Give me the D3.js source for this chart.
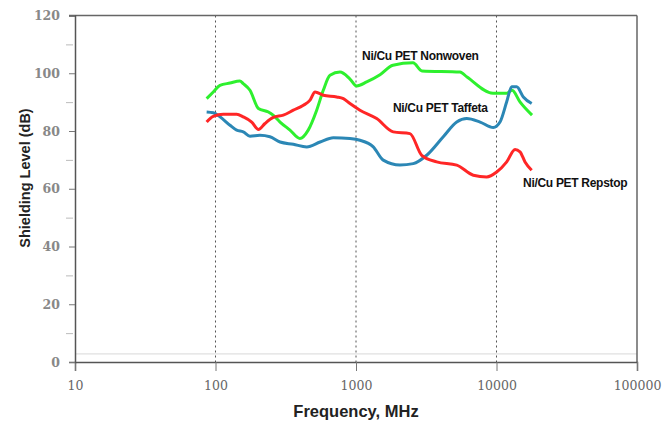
<!DOCTYPE html>
<html>
<head>
<meta charset="utf-8">
<script src="https://cdn.jsdelivr.net/npm/d3@7.9.0/dist/d3.min.js"></script>
<style>
  body { margin: 0; background: #fff; }
  svg { display: block; }
</style>
</head>
<body>
<svg id="vis"></svg>
<script>
const width = 665;
const height = 423;

// --- data ---
const nonwovenFreq = [86.5, 96.4, 107.6, 126.8, 149, 157.6, 176, 202, 238, 257, 288, 339, 399, 457, 525, 585, 653, 769, 906, 1012, 1191, 1482, 1832, 2545, 2950, 5500, 6170, 9440, 11880, 12900, 14690, 17900];
const nonwovenDb   = [91.2, 93.5, 95.8, 96.6, 97.3, 96.4, 94.1, 87.8, 86.6, 85.5, 83.1, 80.3, 77.4, 80.3, 87.2, 94.1, 99.3, 100.4, 98, 95.6, 97, 99.5, 102.8, 103.6, 100.8, 100.4, 98.7, 93.1, 93.1, 94.1, 90.1, 85.5];

const taffetaFreq = [86.5, 96.4, 107.6, 126.8, 141.5, 157.6, 176, 207, 244, 288, 358, 446, 555, 689, 906, 1067, 1327, 1563, 2055, 2556, 3186, 4180, 5210, 6140, 7640, 9490, 10590, 11820, 12830, 13920, 15520, 17800];
const taffetaDb   = [86.6, 86.3, 84.9, 82, 80.3, 79.7, 78.2, 78.5, 78, 76.2, 75.4, 74.5, 76.2, 77.7, 77.4, 76.8, 74.5, 69.9, 68.2, 68.7, 71.6, 78, 83.1, 84.3, 83.1, 81.2, 83.1, 90.1, 95.3, 95.3, 91.8, 89.5];

const repstopFreq = [86.5, 96.4, 113.5, 141.5, 157.6, 181, 202, 225, 258, 304, 358, 422, 471, 511, 585, 729, 813, 906, 1067, 1403, 1841, 2420, 2937, 3750, 5210, 6840, 8510, 10030, 11820, 13550, 14700, 15960, 17800];
const repstopDb   = [83.1, 85.1, 85.8, 85.8, 84.9, 83.1, 80.5, 82.6, 84.7, 85.5, 87.2, 88.9, 90.7, 93.5, 92.4, 91.8, 91.2, 89.5, 87.2, 84.3, 79.7, 79.1, 71.6, 69.3, 68.2, 64.7, 64.1, 65.8, 69.3, 73.6, 72.8, 69.3, 66.4];

const seriesNames  = ["Ni/Cu PET Nonwoven", "Ni/Cu PET Taffeta", "Ni/Cu PET Repstop"];
const seriesColors = ["#2ef02e", "#2b87b5", "#ff2626"];
// where each label starts, in data units (freq, dB)
const labelFreq = [1104, 1832, 15450];
const labelDb   = [106, 88, 62];

const xTicks = [10, 100, 1000, 10000, 100000];
const yTicks = [0, 20, 40, 60, 80, 100, 120];
const yMinor = [10, 30, 50, 70, 90, 110];
const dashedFreq = [100, 1000, 10000];
const floorLevel = 2.8;

const margin = { left: 75, right: 28, top: 15.5, bottom: 61 };

const x = d3.scaleLog()
    .domain([10, 100000])
    .range([margin.left, width - margin.right]);

const y = d3.scaleLinear()
    .domain([0, 120])
    .range([height - margin.bottom, margin.top]);

const svg = d3.select("#vis")
    .attr("width", width)
    .attr("height", height);

// faint line just above the bottom axis
svg.append("line")
    .attr("x1", x(10)).attr("x2", x(100000))
    .attr("y1", y(floorLevel)).attr("y2", y(floorLevel))
    .attr("stroke", "#d8d8d8")
    .attr("stroke-width", 1);

// dashed decade lines
svg.selectAll("line.decade")
    .data(dashedFreq)
    .join("line")
    .attr("class", "decade")
    .attr("x1", d => x(d)).attr("x2", d => x(d))
    .attr("y1", y(120)).attr("y2", y(0))
    .attr("stroke", "#555")
    .attr("stroke-width", 1)
    .attr("stroke-dasharray", "2,3");

// frame: top and right
svg.append("line")
    .attr("x1", x(10) - 6).attr("x2", x(100000))
    .attr("y1", y(120)).attr("y2", y(120))
    .attr("stroke", "#666").attr("stroke-width", 1.5);
svg.append("line")
    .attr("x1", x(100000)).attr("x2", x(100000))
    .attr("y1", y(120)).attr("y2", y(0))
    .attr("stroke", "#666").attr("stroke-width", 1.5);

// x axis
const xAxis = svg.append("g")
    .attr("transform", `translate(0,${y(0)})`)
    .call(d3.axisBottom(x)
        .tickValues(xTicks)
        .tickFormat(d3.format("d"))
        .tickSize(9)
        .tickPadding(10));

// y axis
const yAxis = svg.append("g")
    .attr("transform", `translate(${x(10)},0)`)
    .call(d3.axisLeft(y)
        .tickValues(yTicks)
        .tickSize(6)
        .tickPadding(9));

svg.append("g")
    .attr("transform", `translate(${x(10)},0)`)
    .call(d3.axisLeft(y).tickValues(yMinor).tickSize(7).tickFormat(""))
    .call(g => g.select(".domain").remove())
    .selectAll("line")
    .attr("stroke", "#bbb")
    .attr("transform", "translate(-2,0)");

[xAxis, yAxis].forEach(g => {
    g.select(".domain").attr("stroke", "#555").attr("stroke-width", 1.5);
    g.selectAll(".tick line").attr("stroke", "#777");
    g.selectAll("text")
        .attr("fill", "#666")
        .style("font-family", "'DejaVu Serif', serif")
        .style("font-size", "12.5px");
});
yAxis.selectAll("text").style("font-weight", "bold").attr("fill", "#888");

// series
const line = d3.line()
    .x(d => x(d[0]))
    .y(d => y(d[1]))
    .curve(d3.curveMonotoneX);

const series = [
    d3.zip(nonwovenFreq, nonwovenDb),
    d3.zip(taffetaFreq, taffetaDb),
    d3.zip(repstopFreq, repstopDb)
];

svg.selectAll("path.series")
    .data(series)
    .join("path")
    .attr("class", "series")
    .attr("d", line)
    .attr("fill", "none")
    .attr("stroke", (d, i) => seriesColors[i])
    .attr("stroke-width", 3)
    .attr("stroke-linejoin", "round");

// series labels
svg.selectAll("text.label")
    .data(seriesNames)
    .join("text")
    .attr("class", "label")
    .attr("x", (d, i) => x(labelFreq[i]))
    .attr("y", (d, i) => y(labelDb[i]))
    .attr("dy", "0.35em")
    .attr("fill", "#111")
    .style("font-family", "'Liberation Sans', Arial, sans-serif")
    .style("font-size", "12px")
    .style("font-weight", "bold")
    .style("letter-spacing", "-0.3px")
    .text(d => d);

// axis titles
svg.append("text")
    .attr("x", x(1000))
    .attr("y", 417)
    .attr("text-anchor", "middle")
    .attr("fill", "#222")
    .style("font-family", "'Liberation Sans', Arial, sans-serif")
    .style("font-size", "16.5px")
    .style("font-weight", "bold")
    .text("Frequency, MHz");

svg.append("text")
    .attr("transform", `translate(30,178) rotate(-90)`)
    .attr("text-anchor", "middle")
    .attr("fill", "#222")
    .style("font-family", "'Liberation Sans', Arial, sans-serif")
    .style("font-size", "14.5px")
    .style("font-weight", "bold")
    .text("Shielding Level (dB)");
</script>
</body>
</html>
